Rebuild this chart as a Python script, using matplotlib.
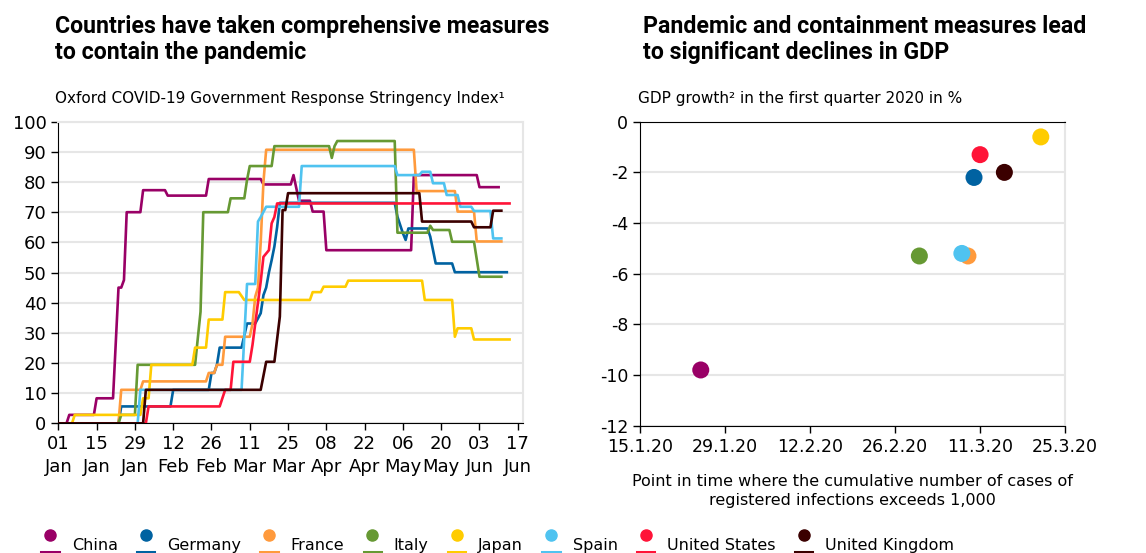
import matplotlib
matplotlib.use("Agg")
import matplotlib.pyplot as plt
import pandas as pd
from matplotlib.legend_handler import HandlerBase
from matplotlib.lines import Line2D

plt.rcParams['font.family'] = ['DejaVu Sans']

countries = ["China", "Germany", "France", "Italy", "Japan", "Spain",
             "United States", "United Kingdom"]
colors = ["#990066", "#0062a1", "#ff9a3c", "#669933", "#ffcc00", "#4fc3f0",
          "#ff1438", "#3b0000"]

# Stringency index: days since 1 Jan 2020 and index value
china_days = [0, 3, 4, 13, 14, 20, 22, 23, 24, 25, 30, 31, 39, 40, 54, 55, 74, 75,
              85, 86, 88, 92, 93, 97, 98, 129, 130, 153, 154, 161]
china_idx = [0, 0, 2.8, 2.8, 8.3, 8.3, 45, 45, 47.5, 70, 70, 77.3, 77.3, 75.5, 75.5,
             81, 81, 79.2, 79.2, 82.3, 73.8, 73.8, 70.2, 70.2, 57.4, 57.4, 82.3,
             82.3, 78.3, 78.3]

germany_days = [0, 22, 23, 41, 42, 55, 56, 57, 58, 59, 67, 69, 72, 74, 75, 76, 77,
                78, 79, 80, 81, 123, 124, 126, 127, 128, 135, 136, 138, 144, 145, 164]
germany_idx = [0, 0, 5.6, 5.6, 11.1, 11.1, 16.7, 16.7, 19.4, 25.1, 25.1, 33.1, 33.1,
               36.5, 42.5, 45, 50, 54.1, 58.6, 65, 73.1, 73.1, 68.5, 63, 60.8, 64.6,
               64.6, 61.9, 53, 53, 50.1, 50.1]

france_days = [0, 22, 23, 30, 31, 54, 55, 57, 58, 60, 61, 70, 71, 72, 73, 74, 75, 76,
               130, 131, 145, 146, 152, 153, 162]
france_idx = [0, 0, 11.1, 11.1, 13.9, 13.9, 16.7, 16.7, 19.4, 19.4, 28.7, 28.7, 33,
              42, 45, 60, 80, 90.7, 90.7, 77, 77, 70.2, 70.2, 60.3, 60.3]

italy_days = [0, 22, 23, 28, 29, 50, 52, 53, 62, 63, 68, 69, 70, 78, 79, 99, 100, 101,
              102, 123, 124, 135, 136, 137, 143, 144, 152, 154, 162]
italy_idx = [0, 0, 2.8, 2.8, 19.4, 19.4, 37, 70, 70, 74.6, 74.6, 80.7, 85.3, 85.3,
             91.9, 91.9, 88, 91.9, 93.6, 93.6, 63.2, 63.2, 65.5, 64.1, 64.1, 60.2,
             60.2, 48.6, 48.6]

japan_days = [0, 5, 6, 30, 31, 33, 34, 49, 50, 54, 55, 60, 61, 66, 68, 92, 93, 96, 97,
              105, 106, 133, 134, 144, 145, 146, 151, 152, 165]
japan_idx = [0, 0, 2.8, 2.8, 8.3, 8.3, 19.4, 19.4, 25.1, 25.1, 34.4, 34.4, 43.5, 43.5,
             40.9, 40.9, 43.5, 43.5, 45.3, 45.3, 47.3, 47.3, 40.9, 40.9, 28.7, 31.5,
             31.5, 27.8, 27.8]

spain_days = [0, 29, 30, 67, 69, 72, 73, 74, 76, 88, 89, 123, 124, 132, 133, 136, 137,
              141, 142, 146, 147, 151, 152, 158, 159, 162]
spain_idx = [0, 0, 11.1, 11.1, 46.2, 46.2, 66.9, 68.4, 71.8, 71.8, 85.3, 85.3, 82.3,
             82.3, 83.4, 83.4, 79.6, 79.6, 75.7, 75.7, 71.8, 71.8, 70.4, 70.4, 61.3, 61.3]

us_days = [0, 32, 33, 59, 61, 63, 64, 70, 71, 72, 73, 74, 75, 77, 78, 79, 80, 165]
us_idx = [0, 0, 5.6, 5.6, 11.1, 11.1, 20.4, 20.4, 26, 33, 40, 47, 55.2, 57.4, 66.3,
          68.4, 72.9, 72.9]

uk_days = [0, 31, 32, 74, 76, 79, 81, 82, 83, 84, 132, 133, 151, 152, 158, 159, 162]
uk_idx = [0, 0, 11.1, 11.1, 20.4, 20.4, 35.4, 70.7, 70.7, 76.3, 76.3, 66.9, 66.9, 65,
          65, 70.5, 70.5]

all_days = [china_days, germany_days, france_days, italy_days, japan_days,
            spain_days, us_days, uk_days]
all_idx = [china_idx, germany_idx, france_idx, italy_idx, japan_idx,
           spain_idx, us_idx, uk_idx]

# GDP growth Q1 2020 vs. date of 1,000 registered cases
gdp_dates = ["2020-01-25", "2020-03-10", "2020-03-09", "2020-03-01", "2020-03-21",
             "2020-03-08", "2020-03-11", "2020-03-15"]
gdp_growth = [-9.8, -2.2, -5.3, -5.3, -0.6, -5.2, -1.3, -2.0]

grid_col = "#e6e6e6"
title_font = ['Liberation Sans Narrow', 'Roboto', 'DejaVu Sans']


class DotLine(HandlerBase):
    # dot on top, short bar below
    def create_artists(self, legend, orig_handle, xdescent, ydescent, width, height,
                       fontsize, trans):
        c = orig_handle.get_color()
        dot = Line2D([width / 2], [height * 1.35], marker='o', ms=8, color=c,
                     ls='none', transform=trans)
        bar = Line2D([0, width], [-height * 0.2] * 2, color=c, lw=2.2,
                     transform=trans)
        return [dot, bar]


fig = plt.figure(figsize=(11.46, 5.53), dpi=100)
ax1 = fig.add_axes([0.0509, 0.2345, 0.4052, 0.5454])
ax2 = fig.add_axes([0.5585, 0.2302, 0.3709, 0.5497])

start = pd.Timestamp("2020-01-01")
for col, d, v in zip(colors, all_days, all_idx):
    ax1.plot(start + pd.to_timedelta(d, unit='D'), v, color=col, lw=1.9,
             solid_joinstyle='round', zorder=3)

ax1.set_ylim(0, 100)
ax1.set_xlim(start, start + pd.Timedelta(days=169.8))
ax1.set_yticks(range(0, 101, 10))
ticks = pd.date_range(start, periods=13, freq='14D')
ax1.set_xticks(ticks)
ax1.set_xticklabels([t.strftime('%d\n%b') for t in ticks], linespacing=1.35)
ax1.tick_params(axis='both', labelsize=13, length=5, width=1, color='black')
ax1.grid(axis='y', color=grid_col, lw=1.5, zorder=0)
ax1.set_axisbelow(True)
for s in ['top', 'right']:
    ax1.spines[s].set_color(grid_col)
    ax1.spines[s].set_linewidth(1.5)
for s in ['left', 'bottom']:
    ax1.spines[s].set_color('black')

ax2.scatter(pd.to_datetime(gdp_dates), gdp_growth, s=150, c=colors, linewidths=0,
            zorder=3)
ax2.set_ylim(-12, 0)
ax2.set_yticks(range(-12, 1, 2))
ax2.set_yticklabels([str(v) for v in range(-12, 1, 2)])
ax2.set_xlim(pd.Timestamp("2020-01-15"), pd.Timestamp("2020-03-25"))
ticks2 = pd.date_range("2020-01-15", periods=6, freq='14D')
ax2.set_xticks(ticks2)
ax2.set_xticklabels([f"{t.day}.{t.month}.{t:%y}" for t in ticks2])
ax2.tick_params(axis='both', labelsize=12.5, length=5, width=1, color='black')
ax2.grid(axis='y', color=grid_col, lw=1.5, zorder=0)
ax2.set_axisbelow(True)
ax2.spines['right'].set_color(grid_col)
ax2.spines['right'].set_linewidth(1.5)

fig.text(0.048, 0.972, "Countries have taken comprehensive measures\nto contain the pandemic",
         fontsize=16.7, fontweight='bold', family=title_font, va='top', ha='left',
         linespacing=1.12)
fig.text(0.561, 0.972, "Pandemic and containment measures lead\nto significant declines in GDP",
         fontsize=16.7, fontweight='bold', family=title_font, va='top', ha='left',
         linespacing=1.12)
fig.text(0.048, 0.822, "Oxford COVID-19 Government Response Stringency Index\u00b9",
         fontsize=11, va='center', ha='left')
fig.text(0.557, 0.822, "GDP growth\u00b2 in the first quarter 2020 in %",
         fontsize=11, va='center', ha='left')
fig.text(0.7435, 0.112, "Point in time where the cumulative number of cases of\n"
         "registered infections exceeds 1,000", fontsize=11.5, ha='center',
         va='center', linespacing=1.4)

handles = [Line2D([], [], color=c) for c in colors]
fig.legend(handles, countries, loc='lower left', bbox_to_anchor=(0.0305, -0.012),
           ncol=8, frameon=False, fontsize=11.5, handlelength=1.1, handletextpad=0.8,
           columnspacing=1.2, borderaxespad=0, handler_map={Line2D: DotLine()})

plt.savefig("out.png", dpi=100)
